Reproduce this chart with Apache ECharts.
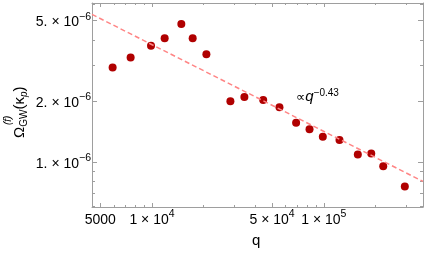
<!DOCTYPE html>
<html><head><meta charset="utf-8">
<script src="https://cdn.jsdelivr.net/npm/echarts@6/dist/echarts.min.js"></script>
<style>html,body{margin:0;padding:0;background:#fff}#c{width:425px;height:255px}</style>
</head><body><div id="c"></div>
<script>
// data
const qValues = [5900, 7510, 9870, 11850, 14820, 17250, 20730, 28600, 34500, 44400, 55200, 69000, 82600, 98700, 123400, 157800, 188900, 221800, 296300];
const omegaValues = [2.92e-6, 3.28e-6, 3.74e-6, 4.08e-6, 4.80e-6, 4.08e-6, 3.40e-6, 1.99e-6, 2.09e-6, 2.02e-6, 1.86e-6, 1.56e-6, 1.45e-6, 1.33e-6, 1.28e-6, 1.086e-6, 1.098e-6, 0.952e-6, 0.755e-6];
const fitQ = [4475, 378000];
const fitOmega = [5.35e-6, 8.0e-7];
const xRange = [4475, 378000];
const yRange = [5.98e-7, 6.09e-6];
const xMajorTicks = [5000, 10000, 50000, 100000];
const xMajorLabels = ['5000', '1 × 10^4', '5 × 10^4', '1 × 10^5'];
const xMinorTicks = [6000, 7000, 8000, 9000, 20000, 30000, 40000, 60000, 70000, 80000, 90000, 200000, 300000];
const yMajorTicks = [1e-6, 2e-6, 5e-6];
const yMajorLabels = ['1. × 10^−6', '2. × 10^−6', '5. × 10^−6'];
const yMinorTicks = [6e-7, 7e-7, 8e-7, 9e-7, 3e-6, 4e-6, 6e-6];

const FRAME = '#9e9e9e';
const FONT = '"Liberation Sans", Arial, sans-serif';

function richLabel(ticks, labels) {
  return function (v) {
    for (let i = 0; i < ticks.length; i++) {
      if (Math.abs(Math.log10(v) - Math.log10(ticks[i])) < 1e-6) {
        const p = labels[i].split('^');
        return p.length > 1 ? '{n|' + p[0] + '}{s|' + p[1] + '}' : '{n|' + p[0] + '}';
      }
    }
    return '';
  };
}
const rich = {
  n: {fontSize: 14, fontFamily: FONT, color: '#000', lineHeight: 18, verticalAlign: 'bottom'},
  s: {fontSize: 10.5, fontFamily: FONT, color: '#000', lineHeight: 10, verticalAlign: 'top'}
};

function axis(dim, pos, range, ticks, len, showLine, labels) {
  const a = {
    type: 'log', position: pos, min: range[0], max: range[1],
    axisLine: {show: showLine, lineStyle: {color: FRAME, width: 1}},
    axisTick: {show: true, inside: true, length: len, customValues: ticks, lineStyle: {color: FRAME, width: 1}},
    splitLine: {show: false}, minorTick: {show: false}, minorSplitLine: {show: false},
    axisLabel: {show: false}
  };
  if (labels) {
    a.axisLabel = {show: true, customValues: ticks, formatter: richLabel(ticks, labels), rich: rich,
      margin: dim === 'x' ? 2 : 1};
  }
  return a;
}

const chart = echarts.init(document.getElementById('c'), null, {renderer: 'canvas'});
chart.setOption({
  animation: false,
  backgroundColor: '#fff',
  grid: {left: 92, right: 2, top: 3, bottom: 48, containLabel: false},
  xAxis: [
    axis('x', 'bottom', xRange, xMajorTicks, 4, true, xMajorLabels),
    axis('x', 'bottom', xRange, xMinorTicks, 2, false, null),
    axis('x', 'top', xRange, xMajorTicks, 4, true, null),
    axis('x', 'top', xRange, xMinorTicks, 2, false, null)
  ],
  yAxis: [
    axis('y', 'left', yRange, yMajorTicks, 5, true, yMajorLabels),
    axis('y', 'left', yRange, yMinorTicks, 3, false, null),
    axis('y', 'right', yRange, yMajorTicks, 5, true, null),
    axis('y', 'right', yRange, yMinorTicks, 3, false, null)
  ],
  series: [
    {type: 'line', xAxisIndex: 0, yAxisIndex: 0, symbol: 'none', silent: true,
     data: fitQ.map((q, i) => [q, fitOmega[i]]),
     lineStyle: {color: '#ff8585', width: 1.5, type: [5, 3]}},
    {type: 'scatter', xAxisIndex: 0, yAxisIndex: 0, symbolSize: 8,
     data: qValues.map((q, i) => [q, omegaValues[i]]),
     itemStyle: {color: '#b00000', opacity: 1}}
  ],
  graphic: [
    {type: 'text', left: 252, top: 233,
     style: {text: 'q', font: '15px ' + FONT, fill: '#000'}},
    {type: 'text', x: 296, y: 88,
     style: {text: '{m|∝}{i|q}{s|−0.43}', rich: {
       m: {fontSize: 13, fontFamily: '"DejaVu Sans", sans-serif', lineHeight: 16, verticalAlign: 'bottom', fill: '#000'},
       i: {fontSize: 15, fontFamily: FONT, fontStyle: 'italic', lineHeight: 16, verticalAlign: 'bottom', fill: '#000'},
       s: {fontSize: 10, fontFamily: FONT, lineHeight: 10, verticalAlign: 'top', fill: '#000'}
     }}},
    {type: 'group', x: 20, y: 108, rotation: Math.PI / 2, children: [
      {type: 'text', x: -30, y: 0,
       style: {text: '{m|Ω}{b|GW}{m|(κ}{p|p}{m|)}', verticalAlign: 'middle', rich: {
         m: {fontSize: 15, fontFamily: FONT, lineHeight: 18, verticalAlign: 'middle', fill: '#000'},
         b: {fontSize: 10, fontFamily: FONT, lineHeight: 10, verticalAlign: 'bottom', fill: '#000'},
         p: {fontSize: 10, fontFamily: FONT, fontStyle: 'italic', lineHeight: 10, verticalAlign: 'bottom', fill: '#000'}
       }}},
      {type: 'text', x: -17, y: -12,
       style: {text: '(f)', fontSize: 10, fontFamily: FONT, fontStyle: 'italic', verticalAlign: 'middle', fill: '#000'}}
    ]}
  ]
});
</script></body></html>
